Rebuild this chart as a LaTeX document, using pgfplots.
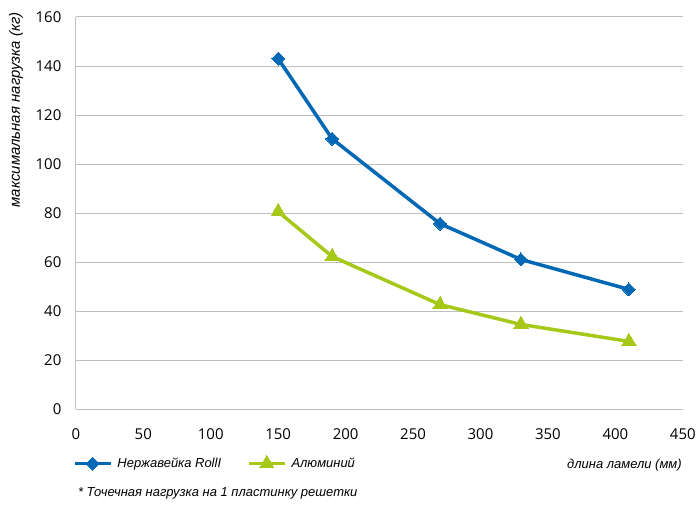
\documentclass[border=0pt]{standalone}
\usepackage{pgfplots}
\pgfplotsset{compat=1.18}
\usepackage{fontspec}
\setmainfont{Liberation Sans}
\newfontfamily\tickfont{Open Sans}
\definecolor{cblue}{RGB}{0,104,180}
\definecolor{cgreen}{RGB}{165,200,25}
\definecolor{cgrid}{RGB}{191,191,191}
\begin{document}
\begin{tikzpicture}[x=1pt,y=1pt]
\path (0,0) rectangle (699,507);
\begin{axis}[
  at={(76pt,97pt)}, anchor=south west,
  scale only axis, width=608pt, height=393pt,
  xmin=0, xmax=450, ymin=0, ymax=160,
  xtick={0,50,...,450}, ytick={0,20,...,160},
  ymajorgrids, grid style={cgrid, line width=1pt},
  axis x line*=bottom, axis y line*=left,
  axis line style={cgrid, line width=1pt, -},
  major tick length=0pt,
  /pgf/number format/assume math mode=true,
  tick label style={font=\tickfont\fontsize{15}{18}\selectfont, text=black},
  yticklabel style={anchor=east, xshift=-11pt},
  xticklabel style={anchor=north, yshift=-16pt},
  legend style={at={(axis description cs:0,0)}, anchor=west, yshift=-54pt, xshift=-6pt,
    draw=none, fill=none, font=\itshape\fontsize{13}{15}\selectfont,
    /tikz/every even column/.append style={column sep=24pt}},
  legend columns=2,
  legend image code/.code={\draw[mark repeat=2,mark phase=2] plot coordinates {(0pt,0pt)(18pt,0pt)(36pt,0pt)}; \path (39pt,0pt);},
]
\addplot[cblue, line width=3.5pt, mark=square*, mark size=4.6pt, mark options={rotate=45, solid, line width=0pt}]
  coordinates {(150,143) (190,110.3) (270,75.7) (330,61.1) (410,48.9)};
\addlegendentry{Нержавейка RollI}
\addplot[cgreen, line width=3.5pt, mark=triangle*, mark size=8.3pt, mark options={solid, line width=0pt}]
  coordinates {(150,80.6) (190,62.3) (270,42.7) (330,34.6) (410,27.7)};
\addlegendentry{Алюминий}
\end{axis}
\node[anchor=east, inner sep=0pt, font=\itshape\fontsize{13}{15}\selectfont] at (683,41) {длина ламели (мм)};
\node[rotate=90, inner sep=0pt, font=\itshape\fontsize{15}{18}\selectfont] at (16,397) {максимальная нагрузка (кг)};
\node[anchor=west, inner sep=0pt, font=\itshape\fontsize{13}{15}\selectfont] at (78,13) {* Точечная нагрузка на 1 пластинку решетки};
\end{tikzpicture}
\end{document}
